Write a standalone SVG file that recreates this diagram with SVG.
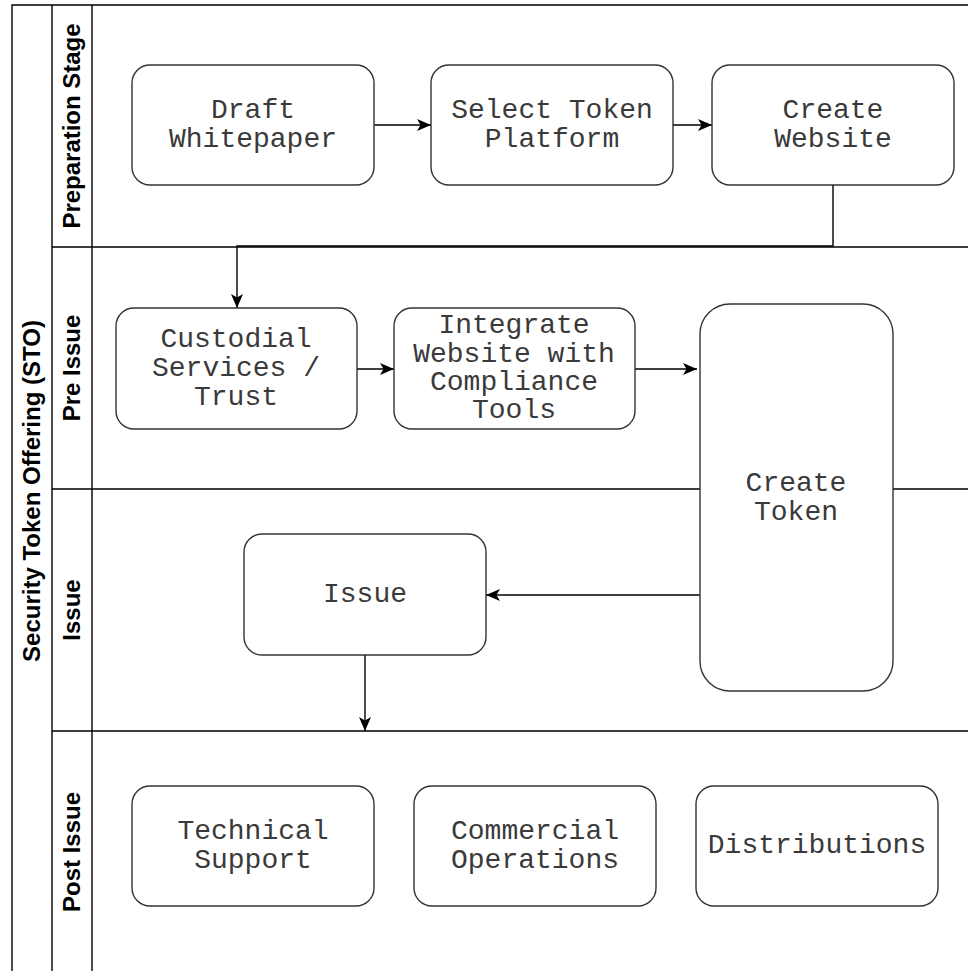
<svg xmlns="http://www.w3.org/2000/svg" width="968" height="971" viewBox="0 0 968 971">
<style>
.lane{fill:none;stroke:#000;stroke-width:1.4}
.box{fill:#fff;stroke:#333;stroke-width:1.4}
.t{font-family:"Liberation Mono",monospace;font-size:28px;fill:#3a3a3a;text-anchor:middle}
.lbl{font-family:"Liberation Sans",Arial,sans-serif;font-weight:bold;font-size:24px;fill:#000;text-anchor:middle}
.edge{fill:none;stroke:#000;stroke-width:1.4}
</style>
<defs>
<marker id="arr" markerUnits="userSpaceOnUse" markerWidth="16" markerHeight="14" refX="14" refY="6" orient="auto">
<path d="M0,0 L14,6 L0,12 L3.5,6 Z" fill="#000"/>
</marker>
</defs>
<rect width="968" height="971" fill="#fff"/>
<g id="pool">
<path class="lane" d="M12,971 V5 H968"/>
<path class="lane" d="M52,5 V971 M92,5 V971"/>
<path class="lane" d="M52,247 H968 M52,489 H700 M893,489 H968 M52,731 H968"/>
<text class="lbl" transform="translate(40,491) rotate(-90)">Security Token Offering (STO)</text>
<text class="lbl" transform="translate(80,126) rotate(-90)" textLength="205" lengthAdjust="spacingAndGlyphs">Preparation Stage</text>
<text class="lbl" transform="translate(80,368) rotate(-90)">Pre Issue</text>
<text class="lbl" transform="translate(80,610) rotate(-90)">Issue</text>
<text class="lbl" transform="translate(80,852) rotate(-90)">Post Issue</text>
</g>
<g id="connectors">
<path class="edge" d="M374,125 H431" marker-end="url(#arr)"/>
<path class="edge" d="M673,125 H712" marker-end="url(#arr)"/>
<path class="edge" d="M833,185 V246 H237 V308" marker-end="url(#arr)"/>
<path class="edge" d="M357,369 H394" marker-end="url(#arr)"/>
<path class="edge" d="M635,369 H697" marker-end="url(#arr)"/>
<path class="edge" d="M700,595 H486" marker-end="url(#arr)"/>
<path class="edge" d="M365,655 V731" marker-end="url(#arr)"/>
</g>
<g id="draft">
<rect class="box" x="132" y="65" width="242" height="120" rx="18"/>
<text class="t" x="253" y="118">Draft</text>
<text class="t" x="253" y="147">Whitepaper</text>
</g>
<g id="select">
<rect class="box" x="431" y="65" width="242" height="120" rx="18"/>
<text class="t" x="552" y="118">Select Token</text>
<text class="t" x="552" y="147">Platform</text>
</g>
<g id="website">
<rect class="box" x="712" y="65" width="242" height="120" rx="18"/>
<text class="t" x="833" y="118">Create</text>
<text class="t" x="833" y="147">Website</text>
</g>
<g id="custodial">
<rect class="box" x="116" y="308" width="241" height="121" rx="18"/>
<text class="t" x="236" y="347">Custodial</text>
<text class="t" x="236" y="376">Services /</text>
<text class="t" x="236" y="405">Trust</text>
</g>
<g id="integrate">
<rect class="box" x="394" y="308" width="241" height="121" rx="18"/>
<text class="t" x="514" y="333">Integrate</text>
<text class="t" x="514" y="362">Website with</text>
<text class="t" x="514" y="390">Compliance</text>
<text class="t" x="514" y="418">Tools</text>
</g>
<g id="token">
<rect class="box" x="700" y="304" width="193" height="387" rx="30"/>
<text class="t" x="796" y="491">Create</text>
<text class="t" x="796" y="520">Token</text>
</g>
<g id="issue">
<rect class="box" x="244" y="534" width="242" height="121" rx="18"/>
<text class="t" x="365" y="602">Issue</text>
</g>
<g id="support">
<rect class="box" x="132" y="786" width="242" height="120" rx="18"/>
<text class="t" x="253" y="839">Technical</text>
<text class="t" x="253" y="868">Support</text>
</g>
<g id="commercial">
<rect class="box" x="414" y="786" width="242" height="120" rx="18"/>
<text class="t" x="535" y="839">Commercial</text>
<text class="t" x="535" y="868">Operations</text>
</g>
<g id="distributions">
<rect class="box" x="696" y="786" width="242" height="120" rx="18"/>
<text class="t" x="817" y="853">Distributions</text>
</g>
</svg>
